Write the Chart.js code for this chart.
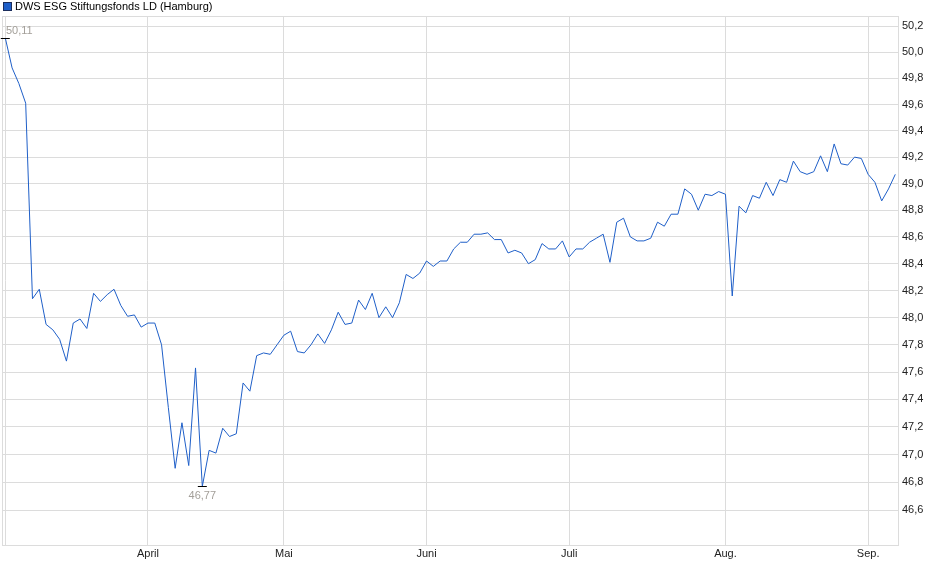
<!DOCTYPE html>
<html>
<head>
<meta charset="utf-8">
<title>DWS ESG Stiftungsfonds LD (Hamburg)</title>
<script src="https://cdn.jsdelivr.net/npm/chart.js@4/dist/chart.umd.min.js"></script>
<style>
  html, body { margin: 0; padding: 0; background: #fff; overflow: hidden; }
  #wrap { width: 940px; height: 579px; }
</style>
</head>
<body>
<div id="wrap"><canvas id="chart" width="940" height="579"></canvas></div>
<script>
// series name
const seriesName = 'DWS ESG Stiftungsfonds LD (Hamburg)';

// daily prices, one per trading day
const prices = [
  50.11, 49.88, 49.76, 49.61, 48.14, 48.21, 47.95, 47.91, 47.84, 47.68,
  47.96, 47.99, 47.92, 48.18, 48.12, 48.17, 48.21, 48.09, 48.01, 48.02,
  47.93, 47.96, 47.96, 47.80, 47.34, 46.90, 47.23, 46.92, 47.63, 46.77,
  47.03, 47.01, 47.19, 47.13, 47.15, 47.52, 47.46, 47.72, 47.74, 47.73,
  47.80, 47.87, 47.90, 47.75, 47.74, 47.80, 47.88, 47.81, 47.91, 48.04,
  47.95, 47.96, 48.13, 48.06, 48.18, 48.00, 48.08, 48.00, 48.11, 48.32,
  48.29, 48.33, 48.42, 48.38, 48.42, 48.42, 48.51, 48.56, 48.56, 48.62,
  48.62, 48.63, 48.58, 48.58, 48.48, 48.50, 48.48, 48.40, 48.43, 48.55,
  48.51, 48.51, 48.57, 48.45, 48.51, 48.51, 48.56, 48.59, 48.62, 48.41,
  48.71, 48.74, 48.60, 48.57, 48.57, 48.59, 48.71, 48.68, 48.77, 48.77,
  48.96, 48.92, 48.80, 48.92, 48.91, 48.94, 48.92, 48.16, 48.83, 48.78,
  48.91, 48.89, 49.01, 48.91, 49.03, 49.01, 49.17, 49.09, 49.07, 49.09,
  49.21, 49.09, 49.30, 49.15, 49.14, 49.20, 49.19, 49.07, 49.01, 48.87,
  48.96, 49.07
];

// month ticks: index of the first trading day in each month
const monthIdx = [21, 41, 62, 83, 106, 127];
const monthNames = ['April', 'Mai', 'Juni', 'Juli', 'Aug.', 'Sep.'];

// price axis ticks
const yTicks = [46.6, 46.8, 47.0, 47.2, 47.4, 47.6, 47.8, 48.0, 48.2, 48.4,
                48.6, 48.8, 49.0, 49.2, 49.4, 49.6, 49.8, 50.0, 50.2];

const FONT = "'Liberation Sans', Arial, sans-serif";
const LINE = '#1f5fc8';
const GRID = '#dcdcdc';

const fmt = (v, d) => v.toFixed(d).replace('.', ',');

// frame round the plot (top + left; right and bottom come from the axes)
const framePlugin = {
  id: 'frame',
  beforeDatasetsDraw(chart) {
    const { ctx, chartArea: a } = chart;
    ctx.save();
    ctx.strokeStyle = GRID;
    ctx.lineWidth = 1;
    ctx.strokeRect(a.left + 0.5, a.top + 0.5, a.right - a.left, a.bottom - a.top);
    ctx.restore();
  }
};

// high / low markers with value labels
const extremesPlugin = {
  id: 'extremes',
  afterDatasetsDraw(chart) {
    const { ctx, chartArea: a } = chart;
    const xs = chart.scales.x, ys = chart.scales.y;
    const hi = prices.indexOf(Math.max(...prices));
    const lo = prices.indexOf(Math.min(...prices));
    ctx.save();
    ctx.font = '11px ' + FONT;
    ctx.lineWidth = 1;
    [[hi, -1], [lo, 1]].forEach(([i, dir]) => {
      const px = xs.getPixelForValue(i);
      const py = Math.round(ys.getPixelForValue(prices[i])) + 0.5;
      ctx.strokeStyle = '#000';
      ctx.beginPath();
      ctx.moveTo(px - 4.5, py);
      ctx.lineTo(px + 4.5, py);
      ctx.stroke();
      const txt = fmt(prices[i], 2);
      const w = ctx.measureText(txt).width;
      const tx = Math.max(px, a.left + 4 + w / 2);
      ctx.fillStyle = '#a39f99';
      ctx.textAlign = 'center';
      if (dir < 0) {
        ctx.textBaseline = 'bottom';
        ctx.fillText(txt, tx, py - 2);
      } else {
        ctx.textBaseline = 'top';
        ctx.fillText(txt, tx, py + 4);
      }
    });
    ctx.restore();
  }
};

// legend in the top-left corner
const legendPlugin = {
  id: 'topLegend',
  afterDraw(chart) {
    const ctx = chart.ctx;
    ctx.save();
    ctx.fillStyle = LINE;
    ctx.fillRect(4, 3, 7, 7);
    ctx.strokeStyle = '#1b2d5c';
    ctx.lineWidth = 1;
    ctx.strokeRect(3.5, 2.5, 8, 8);
    ctx.fillStyle = '#000';
    ctx.font = '11px ' + FONT;
    ctx.textAlign = 'left';
    ctx.textBaseline = 'middle';
    ctx.fillText(seriesName, 15, 7);
    ctx.restore();
  }
};

new Chart(document.getElementById('chart'), {
  type: 'line',
  data: {
    datasets: [{
      label: seriesName,
      data: prices.map((v, i) => ({ x: i, y: v })),
      borderColor: LINE,
      borderWidth: 1,
      pointRadius: 0,
      tension: 0,
      fill: false
    }]
  },
  options: {
    responsive: false,
    animation: false,
    devicePixelRatio: 1,
    layout: { padding: { left: 2, top: 16, right: 0, bottom: 0 } },
    plugins: { legend: { display: false }, tooltip: { enabled: false } },
    scales: {
      x: {
        type: 'linear',
        bounds: 'data',
        min: -0.486,
        max: 131.397,
        // a grid line at the first day, then one per month
        afterBuildTicks: s => { s.ticks = [0, ...monthIdx].map(v => ({ value: v })); },
        afterFit: s => { s.height = 34; },
        grid: { color: GRID, drawTicks: false },
        border: { color: GRID },
        ticks: {
          autoSkip: false,
          maxRotation: 0,
          padding: 2,
          color: '#222',
          font: { family: FONT, size: 11 },
          callback: (v, i) => (i === 0 ? '' : monthNames[i - 1])
        }
      },
      y: {
        type: 'logarithmic',
        position: 'right',
        bounds: 'data',
        min: 46.35,
        max: 50.28,
        afterBuildTicks: s => { s.ticks = yTicks.map(v => ({ value: v })); },
        afterFit: s => { s.width = 42; },
        grid: { color: GRID, drawTicks: false },
        border: { color: GRID },
        ticks: {
          autoSkip: false,
          padding: 4,
          color: '#222',
          font: { family: FONT, size: 11 },
          callback: v => fmt(v, 1)
        }
      }
    }
  },
  plugins: [framePlugin, extremesPlugin, legendPlugin]
});
</script>
</body>
</html>
